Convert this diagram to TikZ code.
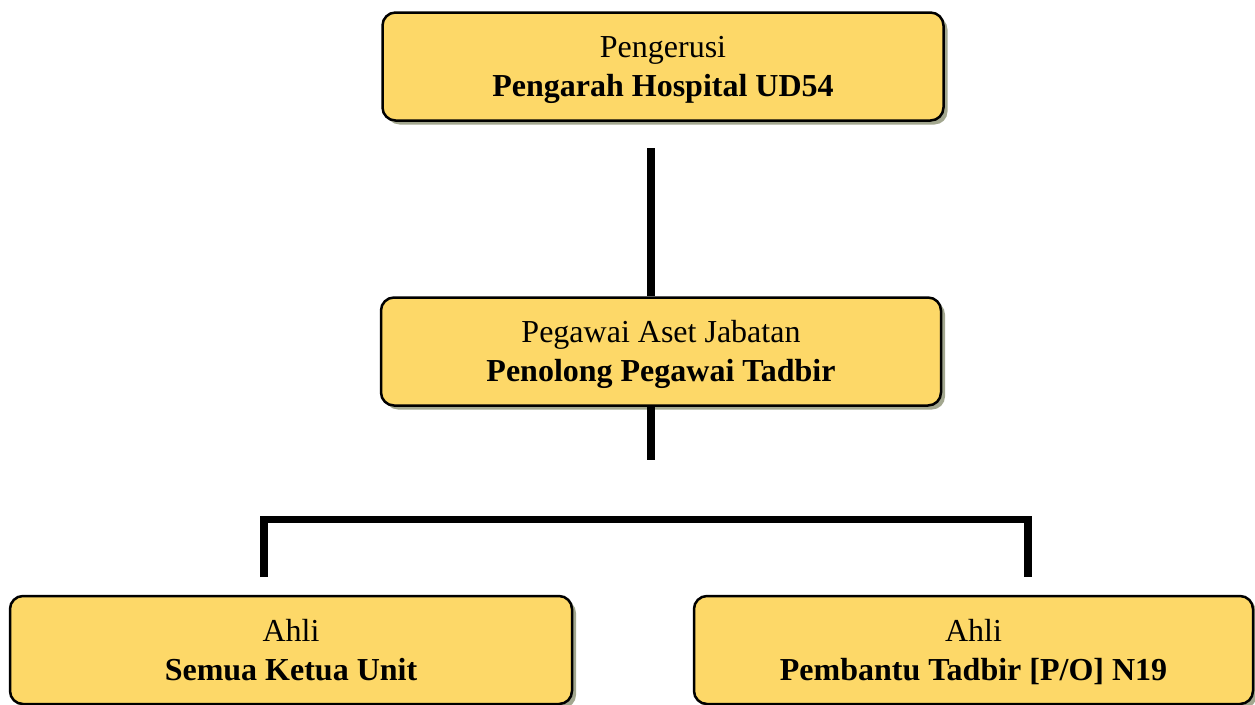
\documentclass[tikz,border=0pt]{standalone}
\usepackage{fontspec}
\setmainfont{Liberation Serif}
\usetikzlibrary{shadows}
\definecolor{boxfill}{HTML}{FDD868}
\definecolor{shadowc}{HTML}{A3A78F}
\newcommand{\twolines}[2]{\rule{0pt}{\dimexpr\ht\strutbox+6pt\relax}#1\\\strut\textbf{#2}}
\tikzset{
  orgbox/.style={draw=black, line width=2.5pt, fill=boxfill, rounded corners=13pt,
    minimum width=#1, minimum height=108pt, align=center, inner sep=0pt,
    font=\fontsize{32}{39}\selectfont,
    drop shadow={shadow xshift=4pt, shadow yshift=-4pt, fill=shadowc, opacity=1}},
  conn/.style={draw=black, line width=7.5pt, line cap=butt, line join=miter}
}
\begin{document}
\begin{tikzpicture}[x=1pt,y=1pt]
\useasboundingbox (0,0) rectangle (1255,-704);
\node[orgbox=561pt] (top) at (663,-66.5) {\twolines{Pengerusi}{Pengarah Hospital UD54}};
\node[orgbox=560pt] (mid) at (661,-351.5) {\twolines{Pegawai Aset Jabatan}{Penolong Pegawai Tadbir}};
\node[orgbox=562pt] (left) at (291,-650) {\twolines{Ahli}{Semua Ketua Unit}};
\node[orgbox=559pt] (right) at (973.5,-650) {\twolines{Ahli}{Pembantu Tadbir [P/O] N19}};
\coordinate (t1) at (651,-148);
\coordinate (m1) at (651,-460);
\coordinate (lc) at (264,-519.5);
\coordinate (rc) at (1028,-519.5);
\coordinate (le) at (264,-577);
\coordinate (re) at (1028,-577);
\draw[conn] (t1) -- (t1 |- mid.north);
\draw[conn] (m1 |- mid.south) -- (m1);
\draw[conn] (le) -- (lc) -- (rc) -- (re);
\end{tikzpicture}
\end{document}
